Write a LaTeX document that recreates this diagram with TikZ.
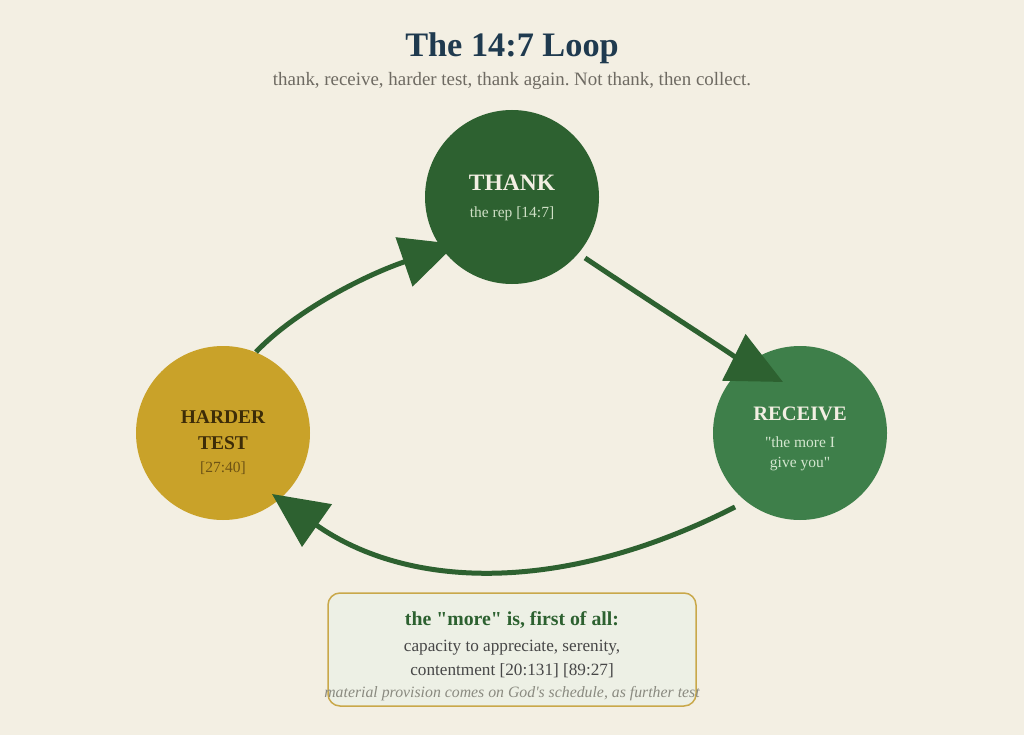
\documentclass[tikz,border=0pt]{standalone}
\usepackage{fontspec}
\setmainfont{Liberation Serif}[Ligatures=TeXOff]
\usetikzlibrary{arrows.meta}
\frenchspacing
\definecolor{bg}{HTML}{F3EFE3}
\definecolor{thankc}{HTML}{2D6130}
\definecolor{recc}{HTML}{3E7F4A}
\definecolor{hardc}{HTML}{C9A229}
\definecolor{titlec}{HTML}{1F3A4F}
\definecolor{subc}{HTML}{6E6A62}
\definecolor{creamt}{HTML}{F3EFE3}
\definecolor{thanksub}{HTML}{CFE0C6}
\definecolor{recsub}{HTML}{D3E6CF}
\definecolor{hardt}{HTML}{3D2C08}
\definecolor{hardsub}{HTML}{6E5315}
\definecolor{boxfill}{HTML}{EDF0E5}
\definecolor{boxdraw}{HTML}{C9A84A}
\definecolor{bodyc}{HTML}{474747}
\definecolor{notec}{HTML}{8A8A80}
\begin{document}
\begin{tikzpicture}[x=1pt,y=-1pt,
  txt/.style={inner sep=0pt, anchor=base},
  ring/.style={circle, minimum size=174pt, inner sep=0pt},
  flow/.style={draw=thankc, line width=5pt, -{Triangle[length=55pt,width=51pt]}}
]
\fill[bg] (0,0) rectangle (1024,735);
\useasboundingbox (0,0) rectangle (1024,735);

% title
\node[txt, text=titlec, font=\fontsize{34.3}{40}\selectfont\bfseries] (title) at (512,57) {The 14:7 Loop};
\node[txt, text=subc, font=\fontsize{18.9}{22}\selectfont] (subtitle) at (512,86) {thank, receive, harder test, thank again. Not thank, then collect.};

% circles
\node[ring, fill=thankc] (thank) at (512,197) {};
\node[ring, fill=recc] (receive) at (800,433) {};
\node[ring, fill=hardc] (harder) at (223,433) {};

% connectors
\coordinate (a1s) at (256,352);
\coordinate (a1e) at (456,244);
\coordinate (a2s) at (585,258);
\coordinate (a2e) at (783,382);
\coordinate (a3s) at (735,507);
\coordinate (a3e) at (272,494);
\draw[flow] (a1s) .. controls (292.7,313.3) and (359.4,277.3) .. (a1e);
\draw[flow] (a2s) .. controls (684.9,324.6) and (750.9,365.9) .. (a2e);
\draw[flow] (a3s) .. controls (563.5,594.4) and (409.1,590.1) .. (a3e);

% circle texts
\node[txt, text=creamt, font=\fontsize{23.5}{28}\selectfont\bfseries] (thankt) at (512,190.5) {THANK};
\node[txt, text=thanksub, font=\fontsize{15.5}{19}\selectfont] (thanks) at (512,218) {the rep [14:7]};

\node[txt, text=creamt, font=\fontsize{20.5}{24}\selectfont\bfseries] (rect) at (800,420) {RECEIVE};
\node[txt, text=recsub, font=\fontsize{15.5}{19}\selectfont] (recs1) at (800,447) {"the more I};
\node[txt, text=recsub, font=\fontsize{15.5}{19}\selectfont] (recs2) at (800,467) {give you"};

\node[txt, text=hardt, font=\fontsize{19.5}{23}\selectfont\bfseries] (hardt1) at (223,423) {HARDER};
\node[txt, text=hardt, font=\fontsize{19.5}{23}\selectfont\bfseries] (hardt2) at (223,449) {TEST};
\node[txt, text=hardsub, font=\fontsize{15.5}{19}\selectfont] (hards) at (223,472) {[27:40]};

% note box
\node[draw=boxdraw, fill=boxfill, rounded corners=12pt, line width=1.5pt, minimum width=368pt, minimum height=113pt, inner sep=0pt] (box) at (512,649.5) {};
\node[txt, text=thankc, font=\fontsize{19.8}{23}\selectfont\bfseries] (boxh) at (512,625) {the "more" is, first of all:};
\node[txt, text=bodyc, font=\fontsize{17.2}{20}\selectfont] (boxb1) at (512,651) {capacity to appreciate, serenity,};
\node[txt, text=bodyc, font=\fontsize{17.2}{20}\selectfont] (boxb2) at (512,675) {contentment [20:131] [89:27]};
\node[txt, text=notec, font=\fontsize{15.8}{19}\selectfont\itshape] (boxn) at (512,697) {material provision comes on God's schedule, as further test};
\end{tikzpicture}
\end{document}
